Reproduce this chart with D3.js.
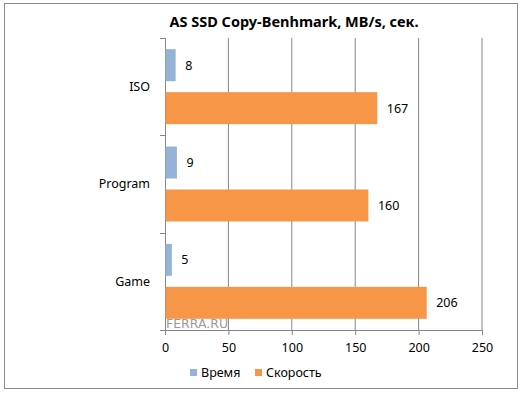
<!DOCTYPE html>
<html>
<head>
<meta charset="utf-8">
<script src="https://cdn.jsdelivr.net/npm/d3@7"></script>
<style>
  body { margin: 0; background: #fff; }
  text { font-family: "Noto Sans", "Open Sans", sans-serif; }
</style>
</head>
<body>
<div id="chart"></div>
<script>
// data
const categories = ["ISO", "Program", "Game"];
const seriesNames = ["Время", "Скорость"];
const vremya = [8, 9, 5];
const skorost = [167, 160, 206];
const xTicks = [0, 50, 100, 150, 200, 250];
const colors = ["#95b3d7", "#f79646"];

const width = 525, height = 393;
const margin = {top: 38, right: 43, bottom: 63, left: 165};

const svg = d3.select("#chart").append("svg")
  .attr("width", width)
  .attr("height", height);

// outer frame
svg.append("rect")
  .attr("x", 4.5).attr("y", 3.5)
  .attr("width", 513).attr("height", 385)
  .attr("fill", "#fff")
  .attr("stroke", "#8c8c8c");

const x = d3.scaleLinear()
  .domain([0, 250])
  .range([margin.left, width - margin.right]);

const y = d3.scaleBand()
  .domain(categories)
  .range([margin.top, height - margin.bottom])
  .paddingInner(0.23)
  .paddingOuter(0.115);

const ySub = d3.scaleBand()
  .domain(seriesNames)
  .range([0, y.bandwidth()])
  .paddingInner(0.256);

// gridlines
svg.append("g")
  .selectAll("line")
  .data(xTicks.slice(1))
  .join("line")
  .attr("x1", d => x(d)).attr("x2", d => x(d))
  .attr("y1", margin.top).attr("y2", height - margin.bottom)
  .attr("stroke", "#868686");

// bottom axis
const xAxis = svg.append("g")
  .attr("transform", `translate(0,${height - margin.bottom})`)
  .call(d3.axisBottom(x).tickValues(xTicks).tickSize(5).tickPadding(8));
xAxis.select(".domain")
  .attr("d", `M${margin.left - 5},0.5H${x(250)}`)
  .attr("stroke", "#868686");
xAxis.selectAll(".tick line").attr("stroke", "#868686");
xAxis.selectAll(".tick text")
  .attr("font-size", 12.5)
  .attr("fill", "#000")
  .style("font-family", "'Noto Sans', sans-serif");

// left axis with ticks at band boundaries
const step = y.step();
const bounds = [margin.top, ...categories.map(c => y(c) - y.paddingInner() * step / 2 + step)];
const leftAxis = svg.append("g");
leftAxis.append("line")
  .attr("x1", x(0) + 0.5).attr("x2", x(0) + 0.5)
  .attr("y1", margin.top).attr("y2", height - margin.bottom)
  .attr("stroke", "#868686");
leftAxis.selectAll(".btick")
  .data(bounds)
  .join("line")
  .attr("class", "btick")
  .attr("x1", x(0) - 5).attr("x2", x(0))
  .attr("y1", d => Math.round(d) + 0.5).attr("y2", d => Math.round(d) + 0.5)
  .attr("stroke", "#868686");
leftAxis.selectAll(".clabel")
  .data(categories)
  .join("text")
  .attr("class", "clabel")
  .attr("x", x(0) - 15)
  .attr("y", d => y(d) + y.bandwidth() / 2)
  .attr("dy", "0.35em")
  .attr("text-anchor", "end")
  .attr("font-size", 12.5)
  .text(d => d);

// bars
const rows = categories.map((c, i) => ({cat: c, vals: [vremya[i], skorost[i]]}));
const groups = svg.append("g")
  .selectAll("g")
  .data(rows)
  .join("g")
  .attr("transform", d => `translate(0,${y(d.cat)})`);

groups.selectAll("rect")
  .data(d => d.vals.map((v, j) => ({s: seriesNames[j], v: v, j: j})))
  .join("rect")
  .attr("x", x(0) + 0.5)
  .attr("y", d => ySub(d.s))
  .attr("width", d => x(d.v) - x(0))
  .attr("height", ySub.bandwidth())
  .attr("fill", d => colors[d.j]);

groups.selectAll("text")
  .data(d => d.vals.map((v, j) => ({s: seriesNames[j], v: v})))
  .join("text")
  .attr("x", d => x(d.v) + 10)
  .attr("y", d => ySub(d.s) + ySub.bandwidth() / 2)
  .attr("dy", "0.35em")
  .attr("font-size", 12.5)
  .text(d => d.v);

// watermark
svg.append("text")
  .attr("x", x(0) + 1).attr("y", height - margin.bottom - 2)
  .attr("font-size", 12.5)
  .attr("fill", "#8a8a8a")
  .attr("opacity", 0.85)
  .style("font-family", "'DejaVu Sans', sans-serif")
  .text("FERRA.RU");

// title
svg.append("text")
  .attr("x", 294).attr("y", 27)
  .attr("text-anchor", "middle")
  .attr("font-size", 14.5)
  .attr("font-weight", "bold")
  .text("AS SSD Copy-Benhmark, MB/s, сек.");

// legend
const legend = svg.append("g")
  .attr("transform", "translate(190,369)");
const items = legend.selectAll("g")
  .data(seriesNames)
  .join("g")
  .attr("transform", (d, i) => `translate(${i * 65},0)`);
items.append("rect")
  .attr("width", 7).attr("height", 7)
  .attr("fill", (d, i) => colors[i]);
items.append("text")
  .attr("x", 11).attr("y", 4)
  .attr("dy", "0.35em")
  .attr("font-size", 12.5)
  .text(d => d);
</script>
</body>
</html>
